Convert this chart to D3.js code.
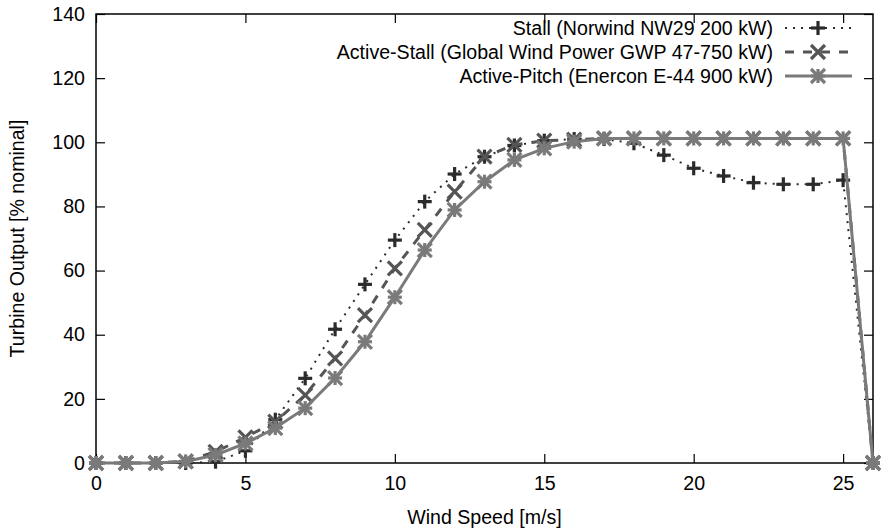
<!DOCTYPE html>
<html><head><meta charset="utf-8">
<script src="https://cdn.jsdelivr.net/npm/d3@7"></script>
<style>body{margin:0;background:#fff}text{font-family:"Liberation Sans",Arial,sans-serif}</style>
</head><body><svg id="c" width="881" height="532"></svg>
<script>
const windSpeed = [0,1,2,3,4,5,6,7,8,9,10,11,12,13,14,15,16,17,18,19,20,21,22,23,24,25,26];
const stall = [0,0,0,0,0.4,3.8,13.5,26.4,41.7,55.7,69.5,81.5,90.1,95.5,99,100.5,101,101,99.7,96,91.9,89.5,87.4,86.9,86.9,88.2,0];
const activeStall = [0,0,0,0.5,3.5,8,12.9,21.2,32.6,46.1,60.7,72.7,84.6,95.5,99.2,100.5,100.8,101.2,101.2,101.2,101.2,101.2,101.2,101.2,101.2,101.2,0];
const activePitch = [0,0,0,0.5,2.5,6.1,10.9,17.1,26.5,37.8,51.7,66.4,78.9,87.7,94.5,98.1,100.2,101.2,101.2,101.2,101.2,101.2,101.2,101.2,101.2,101.2,0];
const seriesNames = ["Stall (Norwind NW29 200 kW)","Active-Stall (Global Wind Power GWP 47-750 kW)","Active-Pitch (Enercon E-44 900 kW)"];
const xTicks = [0,5,10,15,20,25];
const yTicks = [0,20,40,60,80,100,120,140];

const FS = 19.6;
const svg = d3.select("#c");
const L=96,R=873,T=14,B=463;
const x = d3.scaleLinear().domain([0,26]).range([L,R]);
const y = d3.scaleLinear().domain([0,140]).range([B,T]);

const styles = [
  {color:"#2b2b2b", width:2, dash:"2,6", marker:"plus"},
  {color:"#555555", width:3, dash:"9,9", marker:"cross"},
  {color:"#7a7a7a", width:3, dash:null, marker:"star"}
];
const data = [stall, activeStall, activePitch];

function marker(g, type, cx, cy, color){
  const s=7;
  const segs=[];
  if(type==="plus"||type==="star"){segs.push([-s,0,s,0],[0,-s,0,s]);}
  if(type==="cross"||type==="star"){segs.push([-s,-s,s,s],[-s,s,s,-s]);}
  segs.forEach(d=>g.append("line").attr("x1",cx+d[0]).attr("y1",cy+d[1]).attr("x2",cx+d[2]).attr("y2",cy+d[3])
    .attr("stroke",color).attr("stroke-width",3.2));
}

svg.append("rect").attr("x",L).attr("y",T).attr("width",R-L).attr("height",B-T)
  .attr("fill","none").attr("stroke","#000").attr("stroke-width",1.5);

const axB = svg.append("g").attr("transform",`translate(0,${B})`)
  .call(d3.axisBottom(x).tickValues(xTicks).tickSize(-9).tickPadding(13));
const axT = svg.append("g").attr("transform",`translate(0,${T})`)
  .call(d3.axisTop(x).tickValues(xTicks).tickSize(-9).tickFormat(""));
const axL = svg.append("g").attr("transform",`translate(${L},0)`)
  .call(d3.axisLeft(y).tickValues(yTicks).tickSize(-9).tickPadding(11));
const axR = svg.append("g").attr("transform",`translate(${R},0)`)
  .call(d3.axisRight(y).tickValues(yTicks).tickSize(-9).tickFormat(""));
[axB,axT,axL,axR].forEach(a=>{a.select(".domain").remove();a.selectAll("line").attr("stroke","#000").attr("stroke-width",1.2);
  a.selectAll("text").attr("font-size",FS).attr("fill","#000").style("font-family","Liberation Sans, Arial, sans-serif");});

svg.append("text").attr("x",(L+R)/2).attr("y",524).attr("text-anchor","middle").attr("font-size",FS).text("Wind Speed [m/s]");
svg.append("text").attr("transform",`translate(24,${(T+B)/2}) rotate(-90)`).attr("text-anchor","middle").attr("font-size",FS).text("Turbine Output [% nominal]");

const line = d3.line().x((d,i)=>x(windSpeed[i])).y(d=>y(d));
data.forEach((vals,k)=>{
  const st=styles[k];
  const g=svg.append("g");
  const p=g.append("path").datum(vals).attr("d",line).attr("fill","none").attr("stroke",st.color).attr("stroke-width",st.width);
  if(st.dash)p.attr("stroke-dasharray",st.dash);
  vals.forEach((v,i)=>marker(g,st.marker,x(windSpeed[i]),y(v),st.color));
});

seriesNames.forEach((n,k)=>{
  const st=styles[k];
  const yy=28+k*24;
  svg.append("text").attr("x",773).attr("y",yy).attr("dy","0.35em").attr("text-anchor","end").attr("font-size",FS).text(n);
  const ln=svg.append("line").attr("x1",785).attr("x2",852).attr("y1",yy).attr("y2",yy).attr("stroke",st.color).attr("stroke-width",st.width);
  if(st.dash)ln.attr("stroke-dasharray",st.dash);
  marker(svg,st.marker,818,yy,st.color);
});
</script></body></html>
